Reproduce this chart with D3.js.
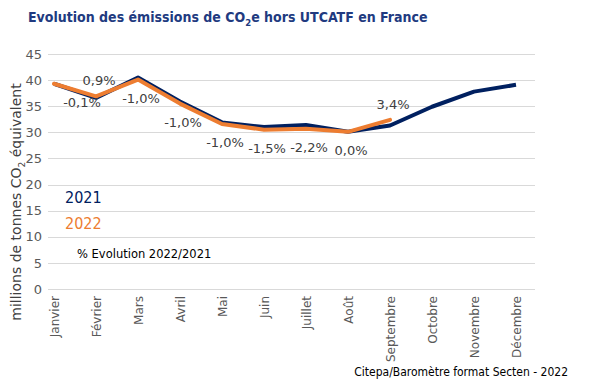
<!DOCTYPE html>
<html>
<head>
<meta charset="utf-8">
<script src="https://cdn.jsdelivr.net/npm/d3@7"></script>
<style>
  body { margin: 0; background: #fff; }
  svg { display: block; }
</style>
</head>
<body>
<svg id="chart" width="602" height="392"></svg>
<script>
const months = ["Janvier", "Février", "Mars", "Avril", "Mai", "Juin", "Juillet",
  "Août", "Septembre", "Octobre", "Novembre", "Décembre"];
const values2021 = [39.3, 36.6, 40.5, 35.9, 31.9, 31.0, 31.4, 30.1, 31.3, 34.9, 37.8, 39.1];
const values2022 = [39.3, 36.9, 40.1, 35.5, 31.6, 30.5, 30.7, 30.1, 32.4];
const evolution = ["-0,1%", "0,9%", "-1,0%", "-1,0%", "-1,0%", "-1,5%", "-2,2%", "0,0%", "3,4%"];
const yTicks = [0, 5, 10, 15, 20, 25, 30, 35, 40, 45];

const navy = "#002060", orange = "#ed7d31";
const font = "'DejaVu Sans', Verdana, sans-serif";
const narrow = "'DejaVu Sans Condensed', 'DejaVu Sans', sans-serif";
const margin = { top: 55, right: 67, bottom: 103, left: 48 };
const width = 602, height = 392;

const svg = d3.select("#chart");

const x = d3.scalePoint()
  .domain(months)
  .range([margin.left + 6, width - margin.right - 19]);

const y = d3.scaleLinear()
  .domain([0, 45])
  .range([height - margin.bottom, margin.top - 1]);

// title
const title = svg.append("text")
  .attr("x", 28).attr("y", 22)
  .attr("fill", "#213a80")
  .attr("font-family", narrow)
  .attr("font-weight", "bold")
  .attr("font-size", 14);
title.append("tspan").text("Evolution des émissions de CO");
title.append("tspan").attr("font-size", 9.5).attr("dy", 4).text("2");
title.append("tspan").attr("dy", -4).text("e hors UTCATF en France");

// grid
svg.append("g")
  .selectAll("line")
  .data(yTicks)
  .join("line")
  .attr("x1", margin.left).attr("x2", width - margin.right)
  .attr("y1", d => Math.round(y(d)) + 0.5).attr("y2", d => Math.round(y(d)) + 0.5)
  .attr("stroke", "#d9d9d9");

// y axis
svg.append("g")
  .attr("transform", `translate(${margin.left}, 0)`)
  .call(d3.axisLeft(y).tickValues(yTicks).tickSize(0).tickPadding(6))
  .call(g => g.select(".domain").remove())
  .call(g => g.selectAll("text")
    .attr("font-family", font).attr("font-size", 13).attr("fill", "#595959"));

// x axis
svg.append("g")
  .attr("transform", `translate(0, ${y(0)})`)
  .call(d3.axisBottom(x).tickSize(0))
  .call(g => g.select(".domain").remove())
  .call(g => g.selectAll("text")
    .attr("font-family", font).attr("font-size", 12).attr("fill", "#595959")
    .attr("transform", "rotate(-90)")
    .attr("text-anchor", "end")
    .attr("x", -7).attr("y", 0).attr("dy", "0.35em"));

// y title
const yTitle = svg.append("text")
  .attr("transform", "translate(21, 202) rotate(-90)")
  .attr("text-anchor", "middle")
  .attr("fill", "#404040")
  .attr("font-family", font)
  .attr("font-size", 14);
yTitle.append("tspan").text("millions de tonnes CO");
yTitle.append("tspan").attr("font-size", 9).attr("dy", 4).text("2");
yTitle.append("tspan").attr("dy", -4).text(" équivalent");

// lines
const line = d3.line()
  .x((d, i) => x(months[i]))
  .y(d => y(d));

svg.append("path")
  .datum(values2021)
  .attr("d", line)
  .attr("fill", "none")
  .attr("stroke", navy)
  .attr("stroke-width", 4)
  .attr("stroke-linejoin", "round");

svg.append("path")
  .datum(values2022)
  .attr("d", line)
  .attr("fill", "none")
  .attr("stroke", orange)
  .attr("stroke-width", 4)
  .attr("stroke-linejoin", "round")
  .attr("stroke-linecap", "round");

// evolution labels: below the point when not rising, above otherwise
svg.append("g")
  .selectAll("text")
  .data(evolution)
  .join("text")
  .attr("x", (d, i) => Math.max(x(months[i]) + 3, 82))
  .attr("y", (d, i) => y(values2022[i]) + (d.startsWith("-") || d === "0,0%" ? 23 : -11))
  .attr("text-anchor", "middle")
  .attr("font-family", font)
  .attr("font-size", 13)
  .attr("fill", "#404040")
  .text(d => d);

// legend
svg.append("text").attr("x", 65).attr("y", 203)
  .attr("font-family", narrow).attr("font-size", 16).attr("fill", navy).text("2021");
svg.append("text").attr("x", 65).attr("y", 229)
  .attr("font-family", narrow).attr("font-size", 16).attr("fill", orange).text("2022");
svg.append("text").attr("x", 77).attr("y", 258)
  .attr("font-family", font).attr("font-size", 11.5).attr("fill", "#000").text("% Evolution 2022/2021");

// source
svg.append("text")
  .attr("x", 568).attr("y", 376)
  .attr("text-anchor", "end")
  .attr("font-family", narrow)
  .attr("font-size", 12)
  .attr("fill", "#000")
  .text("Citepa/Baromètre format Secten - 2022");
</script>
</body>
</html>
